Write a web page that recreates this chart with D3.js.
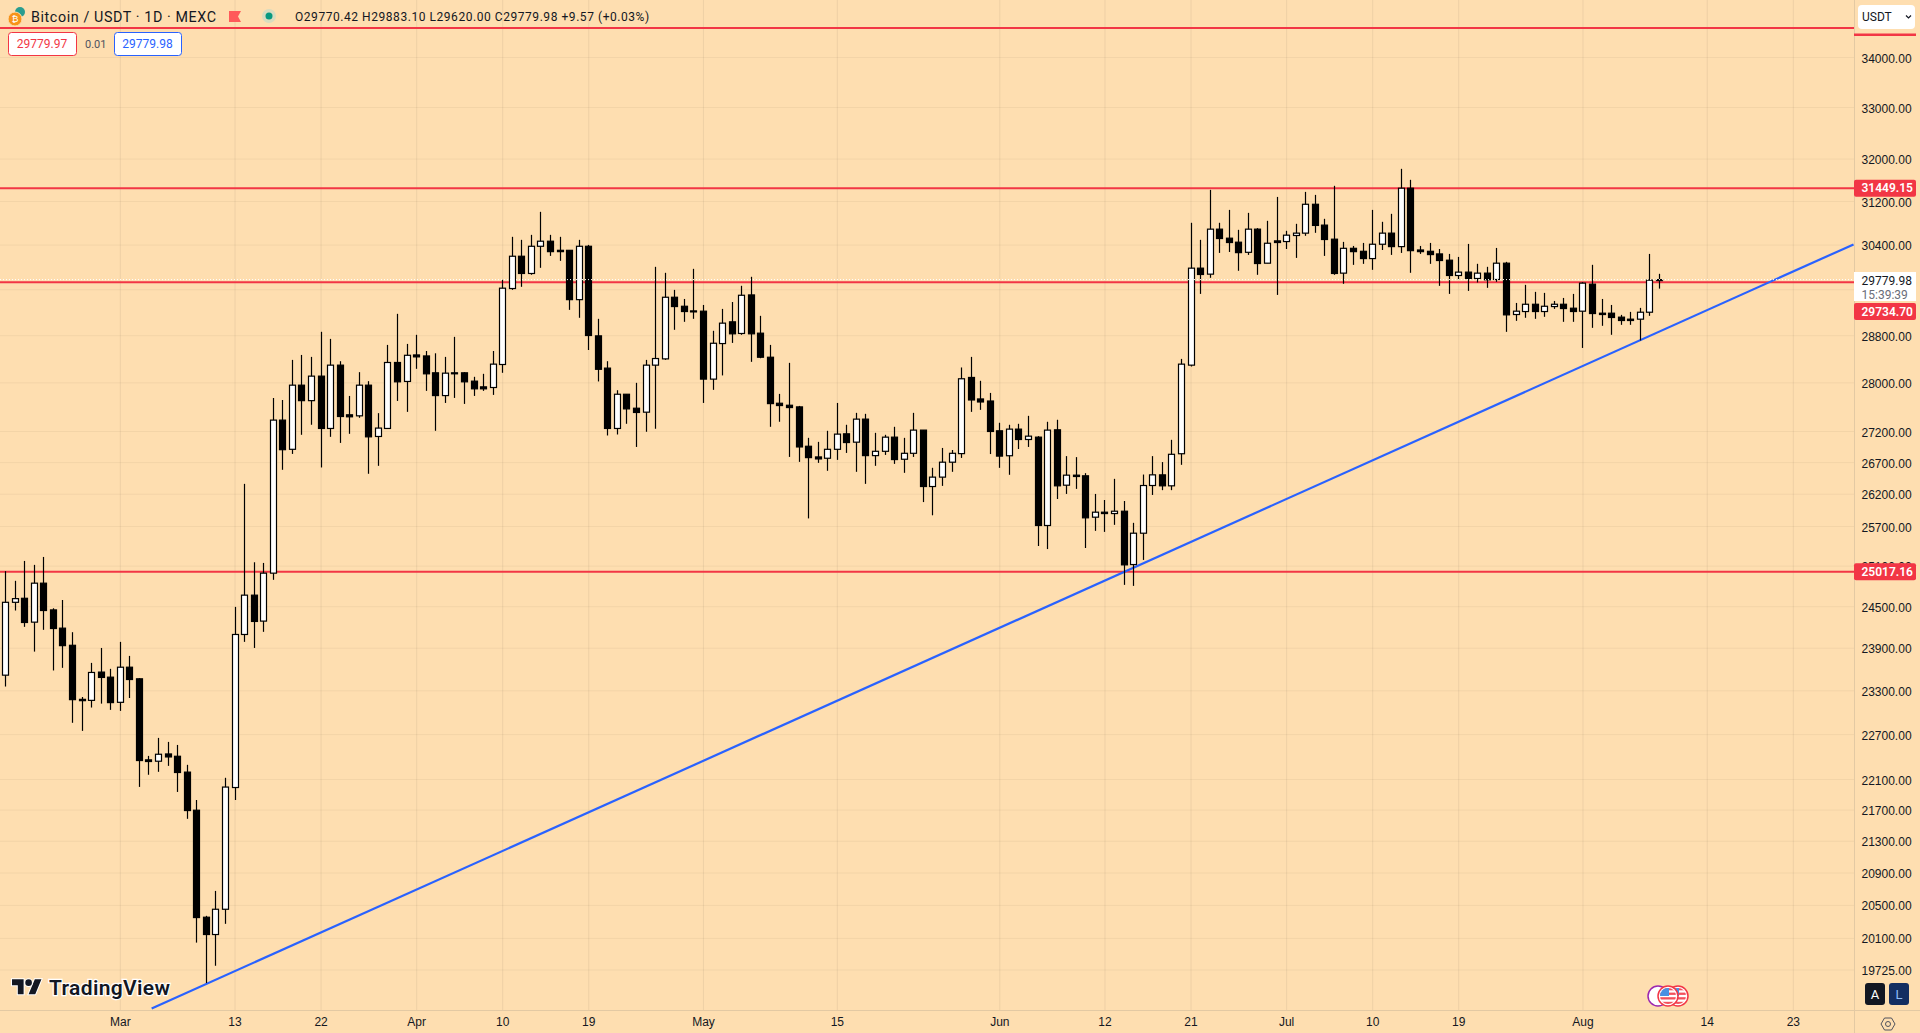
<!DOCTYPE html>
<html>
<head>
<meta charset="utf-8">
<title>BTCUSDT</title>
<script src="https://d3js.org/d3.v7.min.js"></script>
<style>
  html, body { margin: 0; padding: 0; background: #fedeb0; overflow: hidden; }
  svg { display: block; font-family: Roboto, sans-serif; }
  .tick text { fill: #131722; font-size: 12px; }
  .domain { display: none; }
</style>
</head>
<body>
<div id="chart"></div>
<script>
const width = 1920;
const height = 1033;
const paneWidth = 1854;
const paneHeight = 1010;
const background = '#fedeb0';
const red = '#f23645';
const blue = '#2962ff';

const firstDay = new Date(Date.UTC(2023, 1, 17));

const opens = [
  23519,24564,24623,24275,24846,24453,24188,23942,23182,23168,
  23562,23491,23141,23631,23468,22360,22342,22439,22408,22197,
  21698,20356,20147,20453,21994,24097,24669,24290,24995,27385,
  26912,27962,27705,28113,27249,28298,27472,27455,27962,27119,
  27249,28343,28024,28471,28454,28169,27789,28169,28169,28029,
  27934,27923,28309,29622,30198,29889,30378,30470,30305,30305,
  29426,30378,28797,28248,27249,27811,27580,27515,28298,28404,
  29468,29310,29229,29224,28063,28665,29039,28838,29509,28843,
  28432,27662,27629,27602,26961,26790,26769,26912,27162,27027,
  27401,26811,26880,27108,26753,26848,27222,26321,26469,26706,
  26843,28091,27733,27699,27211,26809,27238,27070,27108,25716,
  27227,26342,26500,26490,25844,25921,25900,25936,25124,25598,
  26337,26505,26332,26841,28298,29984,29877,30690,30525,30452,
  30269,30690,30073,30476,30464,30574,30617,31149,30764,30507,
  29895,30341,30287,30156,30415,30617,30372,31449,30311,30287,
  30240,30127,29853,29913,29800,29895,29782,30073,29166,29218,
  29345,29218,29305,29345,29276,29224,29699,29189,29189,29120,
  29085,29085,29206,29770.42
];
const highs = [
  25025,24881,25178,25119,25238,24477,24598,24130,23215,23692,
  23904,23608,23991,23791,23477,22413,22655,22601,22560,22294,
  21831,20373,20678,22122,24497,26363,25158,25148,27749,27716,
  28387,28471,28438,28867,28745,28365,27783,28180,28029,27499,
  28642,29178,28659,28815,28538,28499,28438,28780,28180,28102,
  28152,28538,29776,30550,30495,30586,31009,30586,30550,30305,
  30495,30403,29091,28365,27878,27811,28001,28387,30008,29901,
  29598,29438,29972,29333,28884,29264,29385,29670,29830,29143,
  28642,27817,28337,27618,27097,27032,27211,27667,27309,27504,
  27488,27178,27146,27276,27097,27504,27222,26617,26934,26901,
  28259,28438,28035,27833,27342,27309,27325,27455,27124,27358,
  27391,26803,26787,26532,26205,26110,26442,26095,25757,26510,
  26803,26708,27065,28404,30807,30495,31418,30807,31045,30678,
  30990,30709,30843,31286,30660,30788,31380,31324,30880,31494,
  30458,30384,30439,31045,30825,30972,31815,31607,30384,30439,
  30329,30240,30186,30421,30062,30008,30348,30097,29368,29687,
  29563,29545,29403,29456,29527,29734,30044,29438,29333,29160,
  29212,29282,30240,29883.10
];
const lows = [
  23360,24444,24207,23852,24164,23585,23622,22860,22750,23069,
  23123,23037,23023,23201,22002,22162,22201,22280,21936,21587,
  20050,19572,19775,20276,21831,23991,23904,24135,24896,26585,
  26838,27146,27309,26622,27113,27015,27162,27423,26522,26648,
  27249,27700,27520,28236,27867,27211,27667,27750,27651,27783,
  27867,27800,28169,29598,29652,29866,29990,30204,30115,29247,
  29109,28555,28024,27135,27151,27325,26950,27195,27244,28387,
  28901,29039,29091,27667,27884,28125,28676,28815,28354,28415,
  27276,27358,26790,26711,25825,26695,26569,26743,26854,26553,
  26363,26648,26822,26679,26537,26790,26078,25873,26331,26553,
  26774,27520,27553,26836,26616,26506,26917,26950,25403,25357,
  26126,26205,26284,25373,25634,25618,25726,24821,24806,25193,
  26189,26264,26264,26664,28275,29527,29812,30258,30275,29937,
  30222,29865,30073,29509,30329,30168,30568,30623,30204,29865,
  29705,30043,30061,29954,30311,30222,30258,29901,30240,30061,
  29669,29527,29776,29580,29729,29634,29740,28866,29056,29109,
  29091,29126,29264,29039,29039,28590,28935,28970,28815,28987,
  28987,28717,29143,29620.00
];
const closes = [
  24564,24618,24270,24846,24444,24183,23937,23178,23164,23557,
  23487,23137,23631,23458,22351,22338,22435,22399,22192,21694,
  20352,20147,20453,22000,24097,24669,24285,24995,27385,26906,
  27962,27705,28113,27249,28298,27444,27439,27962,27113,27255,
  28343,28018,28465,28438,28152,27789,28163,28158,28018,27901,
  27901,28315,29628,30198,29889,30378,30470,30281,30281,29426,
  30378,28803,28228,27249,27811,27569,27510,28298,28410,29468,
  29305,29218,29218,28063,28670,29016,28832,29503,28832,28432,
  27656,27624,27591,26950,26779,26758,26912,27157,27021,27401,
  26811,26880,27108,26748,26848,27222,26321,26469,26706,26848,
  28069,27716,27683,27200,26803,27238,27070,27124,25716,27222,
  26332,26500,26479,25834,25921,25900,25936,25119,25598,26337,
  26505,26332,26832,28315,29984,29871,30690,30519,30446,30263,
  30690,30067,30433,30446,30580,30617,31149,30758,30501,29889,
  30341,30281,30156,30415,30617,30372,31449,30299,30281,30228,
  30121,29853,29913,29800,29895,29776,30073,29160,29224,29345,
  29218,29310,29345,29270,29218,29717,29183,29166,29114,29062,
  29062,29206,29770,29779.98
];

const priceTicks = [34000,33000,32000,31200,30400,29600,28800,28000,27200,26700,26200,25700,25100,24500,23900,23300,22700,22100,21700,21300,20900,20500,20100,19725];
const hiddenPriceLabels = [29600]; // sits behind the last price box
const dateTicks = ['2023-03-01','2023-03-13','2023-03-22','2023-04-01','2023-04-10','2023-04-19','2023-05-01','2023-05-15','2023-06-01','2023-06-12','2023-06-21','2023-07-01','2023-07-10','2023-07-19','2023-08-01','2023-08-14','2023-08-23'];
const dateLabels = ['Mar','13','22','Apr','10','19','May','15','Jun','12','21','Jul','10','19','Aug','14','23'];

const levels = [34604, 31449.15, 29734.70, 25017.16];
const lastPrice = 29779.98;
const trendDates = ['2023-03-04T06:43Z', '2023-08-29T07:12Z'];
const trendPrices = [19277, 30412];

const x = d3.scaleUtc()
  .domain([new Date('2023-03-01'), new Date('2023-08-23')])
  .range([120.3, 1793.3]);
const y = d3.scaleLog()
  .domain([19725, 34000])
  .range([970, 57.5]);

const candles = opens.map((open, i) => ({
  date: d3.utcDay.offset(firstDay, i),
  open, high: highs[i], low: lows[i], close: closes[i]
}));

const svg = d3.select('#chart').append('svg')
  .attr('width', width)
  .attr('height', height);

svg.append('rect').attr('width', width).attr('height', height).attr('fill', background);

const defs = svg.append('defs');
defs.append('clipPath').attr('id', 'pane')
  .append('rect').attr('width', paneWidth).attr('height', paneHeight);

// grid comes from the axes themselves
const yAxis = d3.axisRight(y)
  .tickValues(priceTicks)
  .tickFormat(d => hiddenPriceLabels.includes(d) ? '' : d3.format('.2f')(d))
  .tickSize(-paneWidth)
  .tickPadding(7.5)
  .offset(0);
const yAxisG = svg.append('g').attr('transform', `translate(${paneWidth},0)`).call(yAxis);
yAxisG.selectAll('.tick line').attr('stroke', 'rgba(110,100,80,0.08)');
yAxisG.selectAll('.tick text').attr('dy', '0.42em');

const dateLabel = d3.scaleOrdinal(dateTicks.map(d => +new Date(d)), dateLabels);
const xAxis = d3.axisBottom(x)
  .tickValues(dateTicks.map(d => new Date(d)))
  .tickFormat(d => dateLabel(+d))
  .tickSize(-paneHeight)
  .tickPadding(7)
  .offset(0);
const xAxisG = svg.append('g').attr('transform', `translate(0,${paneHeight})`).call(xAxis);
xAxisG.selectAll('.tick line').attr('stroke', 'rgba(110,100,80,0.11)');

svg.append('line').attr('x1', paneWidth + 0.5).attr('x2', paneWidth + 0.5).attr('y1', 0).attr('y2', height).attr('stroke', '#e3c9a3');
svg.append('line').attr('x1', 0).attr('x2', width).attr('y1', paneHeight + 0.5).attr('y2', paneHeight + 0.5).attr('stroke', '#e3c9a3');

const pane = svg.append('g').attr('clip-path', 'url(#pane)');

// drawings sit under the candles
pane.selectAll('.level')
  .data(levels)
  .join('line')
  .attr('class', 'level')
  .attr('x1', 0).attr('x2', paneWidth)
  .attr('y1', d => y(d)).attr('y2', d => y(d))
  .attr('stroke', red)
  .attr('stroke-width', 2);

pane.append('line')
  .attr('x1', x(new Date(trendDates[0]))).attr('y1', y(trendPrices[0]))
  .attr('x2', x(new Date(trendDates[1]))).attr('y2', y(trendPrices[1]))
  .attr('stroke', blue)
  .attr('stroke-width', 2.2);

const centerX = d => Math.round(x(d.date) - 0.5) + 0.5;

pane.selectAll('.wick')
  .data(candles)
  .join('line')
  .attr('class', 'wick')
  .attr('x1', centerX).attr('x2', centerX)
  .attr('y1', d => y(d.high)).attr('y2', d => y(d.low))
  .attr('stroke', '#000')
  .attr('stroke-width', 1.2);

pane.selectAll('.body')
  .data(candles)
  .join('rect')
  .attr('class', 'body')
  .attr('x', d => centerX(d) - 3)
  .attr('width', 6)
  .attr('y', d => y(Math.max(d.open, d.close)))
  .attr('height', d => Math.max(1, Math.abs(y(d.open) - y(d.close))))
  .attr('fill', d => d.close >= d.open ? '#fff' : '#000')
  .attr('stroke', '#000')
  .attr('stroke-width', 1.2);

// last price dotted line goes above the candles
pane.append('line')
  .attr('x1', 0).attr('x2', paneWidth)
  .attr('y1', y(lastPrice)).attr('y2', y(lastPrice))
  .attr('stroke', '#fff')
  .attr('stroke-width', 1)
  .attr('stroke-dasharray', '1 2');

const priceLabel = (price, yPos, fill, textFill) => {
  const g = svg.append('g');
  g.append('rect').attr('x', paneWidth).attr('y', yPos - 8.5).attr('width', 62).attr('height', 17).attr('rx', 2).attr('fill', fill);
  g.append('text').attr('x', 1861.5).attr('y', yPos + 4.2)
    .attr('font-size', 12).attr('font-weight', 600).attr('fill', textFill)
    .text(d3.format('.2f')(price));
};

// last price box with countdown
svg.append('rect').attr('x', paneWidth).attr('y', 272).attr('width', 62).attr('height', 29).attr('fill', '#fff');
svg.append('text').attr('x', 1861.5).attr('y', 285).attr('font-size', 12).attr('fill', '#131722').text(d3.format('.2f')(lastPrice));
svg.append('text').attr('x', 1861.5).attr('y', 299).attr('font-size', 12).attr('fill', '#6a6d78').text('15:39:39');

priceLabel(levels[1], y(levels[1]), red, '#fff');
priceLabel(levels[2], 311.5, red, '#fff');
priceLabel(levels[3], y(levels[3]), red, '#fff');

// top level label is mostly under the currency button
svg.append('rect').attr('x', paneWidth).attr('y', 33.5).attr('width', 62).attr('height', 2.5).attr('fill', red);
svg.append('rect').attr('x', 1858).attr('y', 5).attr('width', 57).attr('height', 24).attr('rx', 4).attr('fill', '#fff');
svg.append('text').attr('x', 1862).attr('y', 21).attr('font-size', 12).attr('fill', '#131722').text('USDT');
svg.append('path').attr('d', 'M1906 15.5l2.5 2.5 2.5-2.5').attr('fill', 'none').attr('stroke', '#131722').attr('stroke-width', 1.2);

// legend
svg.append('circle').attr('cx', 20).attr('cy', 12).attr('r', 5).attr('fill', '#2a9d8f');
svg.append('circle').attr('cx', 15).attr('cy', 19).attr('r', 7).attr('fill', '#f7931a').attr('stroke', background).attr('stroke-width', 1);
svg.append('text').attr('x', 15).attr('y', 22).attr('text-anchor', 'middle').attr('font-size', 9).attr('fill', '#fff').text('₿');
svg.append('text').attr('x', 31).attr('y', 21.5).attr('font-size', 14.3).attr('letter-spacing', 0.6).attr('fill', '#131722').text('Bitcoin / USDT · 1D · MEXC');
svg.append('path').attr('d', 'M229 11h12l-3 5.5 3 5.5h-12z').attr('fill', '#ff5a5a');
svg.append('circle').attr('cx', 269).attr('cy', 16).attr('r', 7).attr('fill', '#d8dcc0');
svg.append('circle').attr('cx', 269).attr('cy', 16).attr('r', 3.5).attr('fill', '#089981');
svg.append('text').attr('x', 295).attr('y', 21).attr('font-size', 12).attr('letter-spacing', 0.55).attr('fill', '#131722')
  .text('O29770.42 H29883.10 L29620.00 C29779.98 +9.57 (+0.03%)');

const priceBox = (bx, w, stroke, label) => {
  svg.append('rect').attr('x', bx + 0.5).attr('y', 32.5).attr('width', w).attr('height', 23).attr('rx', 3).attr('fill', '#fff').attr('stroke', stroke);
  svg.append('text').attr('x', bx + w / 2).attr('y', 48).attr('text-anchor', 'middle').attr('font-size', 12).attr('fill', stroke).text(label);
};
priceBox(8, 68, red, '29779.97');
svg.append('text').attr('x', 85).attr('y', 48).attr('font-size', 11).attr('fill', '#50535e').text('0.01');
priceBox(114, 67, blue, '29779.98');

// watermark
const logo = svg.append('g').attr('transform', 'translate(12,976) scale(0.83)')
  .attr('fill', '#131722').attr('stroke', '#fff').attr('stroke-width', 2.4).attr('paint-order', 'stroke');
logo.append('path').attr('d', 'M14 22H7V11H0V4h14v18zM28 22h-8l7.5-18h8L28 22z');
logo.append('circle').attr('cx', 20).attr('cy', 8).attr('r', 4);
svg.append('text').attr('x', 49).attr('y', 995).attr('font-size', 21).attr('font-weight', 600).attr('letter-spacing', 0.35)
  .attr('fill', '#131722').attr('stroke', '#fff').attr('stroke-width', 2.4).attr('paint-order', 'stroke')
  .text('TradingView');

// economic events
const eventY = 996;
svg.append('circle').attr('cx', 1658).attr('cy', eventY).attr('r', 10).attr('fill', '#fff').attr('stroke', '#9c27b0').attr('stroke-width', 1.5);
const flag = (cx) => {
  const id = 'flag' + cx;
  defs.append('clipPath').attr('id', id).append('circle').attr('cx', cx).attr('cy', eventY).attr('r', 8);
  svg.append('circle').attr('cx', cx).attr('cy', eventY).attr('r', 10).attr('fill', '#fff').attr('stroke', red).attr('stroke-width', 1.5);
  const g = svg.append('g').attr('clip-path', `url(#${id})`);
  g.append('rect').attr('x', cx - 8).attr('y', eventY - 8).attr('width', 16).attr('height', 16).attr('fill', '#fff');
  d3.range(0, 4).forEach(i => {
    g.append('rect').attr('x', cx - 8).attr('y', eventY - 8 + i * 4.6).attr('width', 16).attr('height', 2.3).attr('fill', '#f4515c');
  });
  g.append('rect').attr('x', cx - 8).attr('y', eventY - 8).attr('width', 9).attr('height', 8).attr('fill', '#4a90e2');
};
flag(1678);
flag(1668);

// auto / log buttons
svg.append('rect').attr('x', 1865).attr('y', 983).attr('width', 20).attr('height', 22).attr('rx', 3).attr('fill', '#131722');
svg.append('text').attr('x', 1875).attr('y', 999).attr('text-anchor', 'middle').attr('font-size', 13).attr('fill', '#fff').text('A');
svg.append('rect').attr('x', 1889).attr('y', 983).attr('width', 20).attr('height', 22).attr('rx', 3).attr('fill', '#142e61');
svg.append('text').attr('x', 1899).attr('y', 999).attr('text-anchor', 'middle').attr('font-size', 13).attr('fill', '#90bff9').text('L');

// settings gear
svg.append('path').attr('d', 'M1881 1024l3.5-6h7l3.5 6-3.5 6h-7z').attr('fill', 'none').attr('stroke', '#50535e').attr('stroke-width', 1);
svg.append('circle').attr('cx', 1888).attr('cy', 1024).attr('r', 2.5).attr('fill', 'none').attr('stroke', '#50535e').attr('stroke-width', 1);
</script>
</body>
</html>
